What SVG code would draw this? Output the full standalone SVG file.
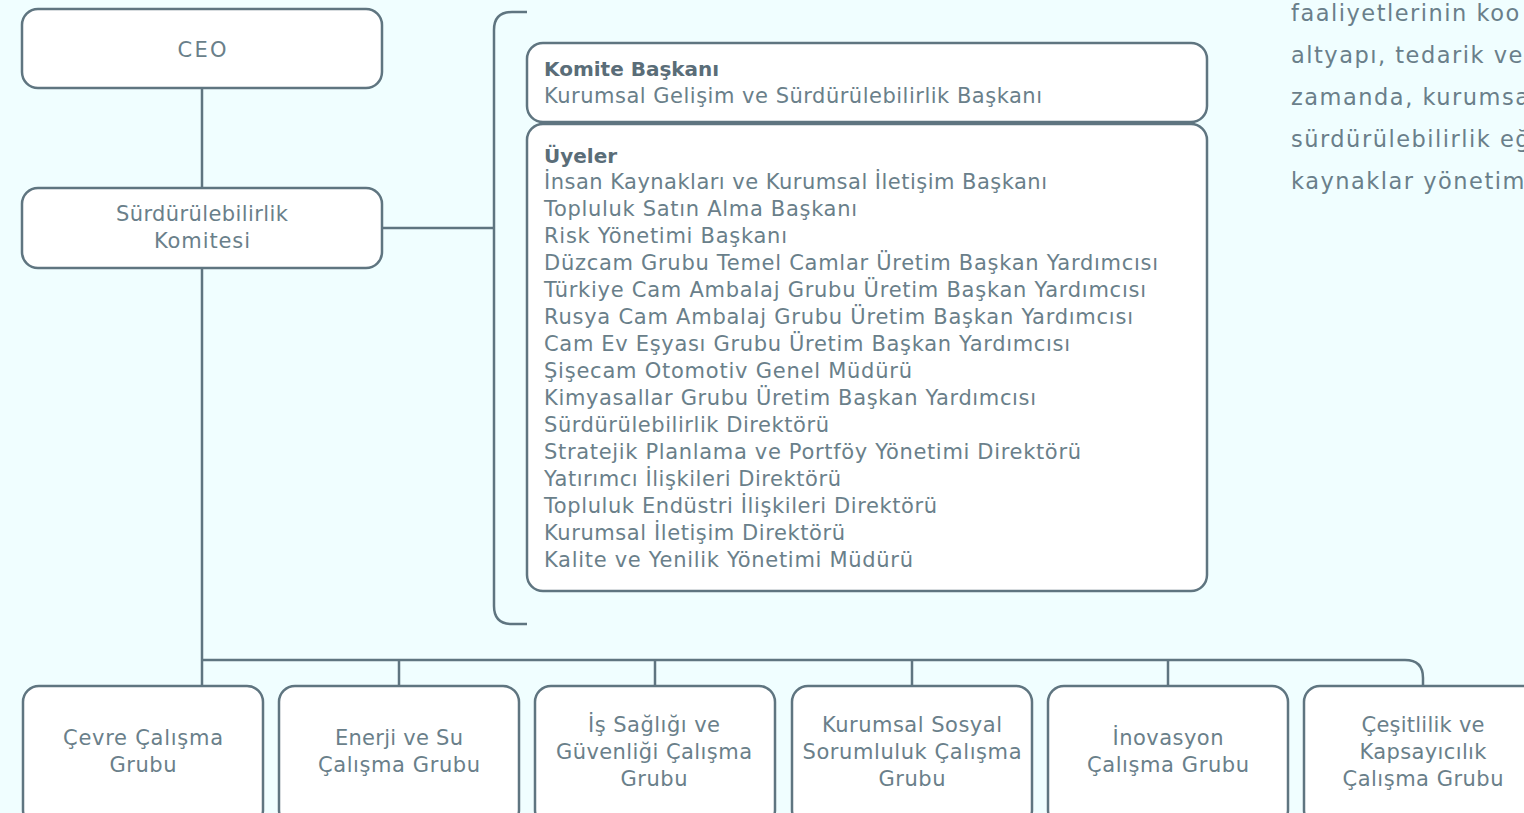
<svg xmlns="http://www.w3.org/2000/svg" width="1524" height="813" viewBox="0 0 1524 813">
<style>
.box{fill:#ffffff;stroke:#5f7580;stroke-width:2.5}
.ln{fill:none;stroke:#5f7580;stroke-width:2.5}
.t{font-family:"DejaVu Sans","Liberation Sans",sans-serif;font-size:21px;fill:#6a7f8a}
.c{text-anchor:middle}
.b{font-weight:bold;font-size:20px;fill:#5a6d78}
.p{font-family:"DejaVu Sans","Liberation Sans",sans-serif;font-size:22.5px;fill:#6a7f8a;letter-spacing:1.5px}
</style>
<rect x="0" y="0" width="1524" height="813" fill="#f0feff"/>
<g id="connectors">
<line class="ln" x1="202" y1="88" x2="202" y2="188"/>
<line class="ln" x1="382" y1="228" x2="494" y2="228"/>
<path class="ln" d="M527 12 H512 Q494 12 494 30 V606 Q494 624 512 624 H527"/>
<path class="ln" d="M202 268 V686 M202 660 H1405 Q1423 660 1423 678 V686"/>
<path class="ln" d="M399 660 V686 M655 660 V686 M912 660 V686 M1168 660 V686"/>
</g>
<g id="ceo">
<rect class="box" x="22" y="9" width="360" height="79" rx="16"/>
<text class="t c" x="202" y="57" textLength="49">CEO</text>
</g>
<g id="komite">
<rect class="box" x="22" y="188" width="360" height="80" rx="16"/>
<text class="t c" x="202" y="221" textLength="172">Sürdürülebilirlik</text>
<text class="t c" x="202" y="248" textLength="96">Komitesi</text>
</g>
<g id="baskan">
<rect class="box" x="527" y="43" width="680" height="79" rx="16"/>
<text class="t b" x="544" y="76">Komite Başkanı</text>
<text class="t" x="544" y="103" textLength="498">Kurumsal Gelişim ve Sürdürülebilirlik Başkanı</text>
</g>
<g id="uyeler">
<rect class="box" x="527" y="124" width="680" height="467" rx="16"/>
<text class="t b" x="544" y="163">Üyeler</text>
<text class="t" x="544" y="189" textLength="503">İnsan Kaynakları ve Kurumsal İletişim Başkanı</text>
<text class="t" x="544" y="216" textLength="313">Topluluk Satın Alma Başkanı</text>
<text class="t" x="544" y="243" textLength="243">Risk Yönetimi Başkanı</text>
<text class="t" x="544" y="270" textLength="614">Düzcam Grubu Temel Camlar Üretim Başkan Yardımcısı</text>
<text class="t" x="544" y="297" textLength="602">Türkiye Cam Ambalaj Grubu Üretim Başkan Yardımcısı</text>
<text class="t" x="544" y="324" textLength="589">Rusya Cam Ambalaj Grubu Üretim Başkan Yardımcısı</text>
<text class="t" x="544" y="351" textLength="526">Cam Ev Eşyası Grubu Üretim Başkan Yardımcısı</text>
<text class="t" x="544" y="378" textLength="368">Şişecam Otomotiv Genel Müdürü</text>
<text class="t" x="544" y="405" textLength="492">Kimyasallar Grubu Üretim Başkan Yardımcısı</text>
<text class="t" x="544" y="432" textLength="285">Sürdürülebilirlik Direktörü</text>
<text class="t" x="544" y="459" textLength="537">Stratejik Planlama ve Portföy Yönetimi Direktörü</text>
<text class="t" x="544" y="486" textLength="297">Yatırımcı İlişkileri Direktörü</text>
<text class="t" x="544" y="513" textLength="393">Topluluk Endüstri İlişkileri Direktörü</text>
<text class="t" x="544" y="540" textLength="301">Kurumsal İletişim Direktörü</text>
<text class="t" x="544" y="567" textLength="369">Kalite ve Yenilik Yönetimi Müdürü</text>
</g>
<g id="cevre">
<rect class="box" x="23" y="686" width="240" height="140" rx="16"/>
<text class="t c" x="143" y="745" textLength="160">Çevre Çalışma</text>
<text class="t c" x="143" y="772" textLength="67">Grubu</text>
</g>
<g id="enerji">
<rect class="box" x="279" y="686" width="240" height="140" rx="16"/>
<text class="t c" x="399" y="745" textLength="128">Enerji ve Su</text>
<text class="t c" x="399" y="772" textLength="162">Çalışma Grubu</text>
</g>
<g id="isg">
<rect class="box" x="535" y="686" width="240" height="140" rx="16"/>
<text class="t c" x="654" y="732" textLength="132">İş Sağlığı ve</text>
<text class="t c" x="654" y="759" textLength="196">Güvenliği Çalışma</text>
<text class="t c" x="654" y="786" textLength="67">Grubu</text>
</g>
<g id="kss">
<rect class="box" x="792" y="686" width="240" height="140" rx="16"/>
<text class="t c" x="912" y="732" textLength="180">Kurumsal Sosyal</text>
<text class="t c" x="912" y="759" textLength="219">Sorumluluk Çalışma</text>
<text class="t c" x="912" y="786" textLength="67">Grubu</text>
</g>
<g id="inovasyon">
<rect class="box" x="1048" y="686" width="240" height="140" rx="16"/>
<text class="t c" x="1168" y="745" textLength="111">İnovasyon</text>
<text class="t c" x="1168" y="772" textLength="162">Çalışma Grubu</text>
</g>
<g id="cesitlilik">
<rect class="box" x="1304" y="686" width="240" height="140" rx="16"/>
<text class="t c" x="1423" y="732" textLength="123">Çeşitlilik ve</text>
<text class="t c" x="1423" y="759" textLength="127">Kapsayıcılık</text>
<text class="t c" x="1423" y="786" textLength="161">Çalışma Grubu</text>
</g>
<g id="paragraph">
<text class="p" x="1291" y="21">faaliyetlerinin koo</text>
<text class="p" x="1291" y="63">altyapı, tedarik ve</text>
<text class="p" x="1291" y="105">zamanda, kurumsa</text>
<text class="p" x="1291" y="147">sürdürülebilirlik eğ</text>
<text class="p" x="1291" y="189">kaynaklar yönetim</text>
</g>
</svg>
